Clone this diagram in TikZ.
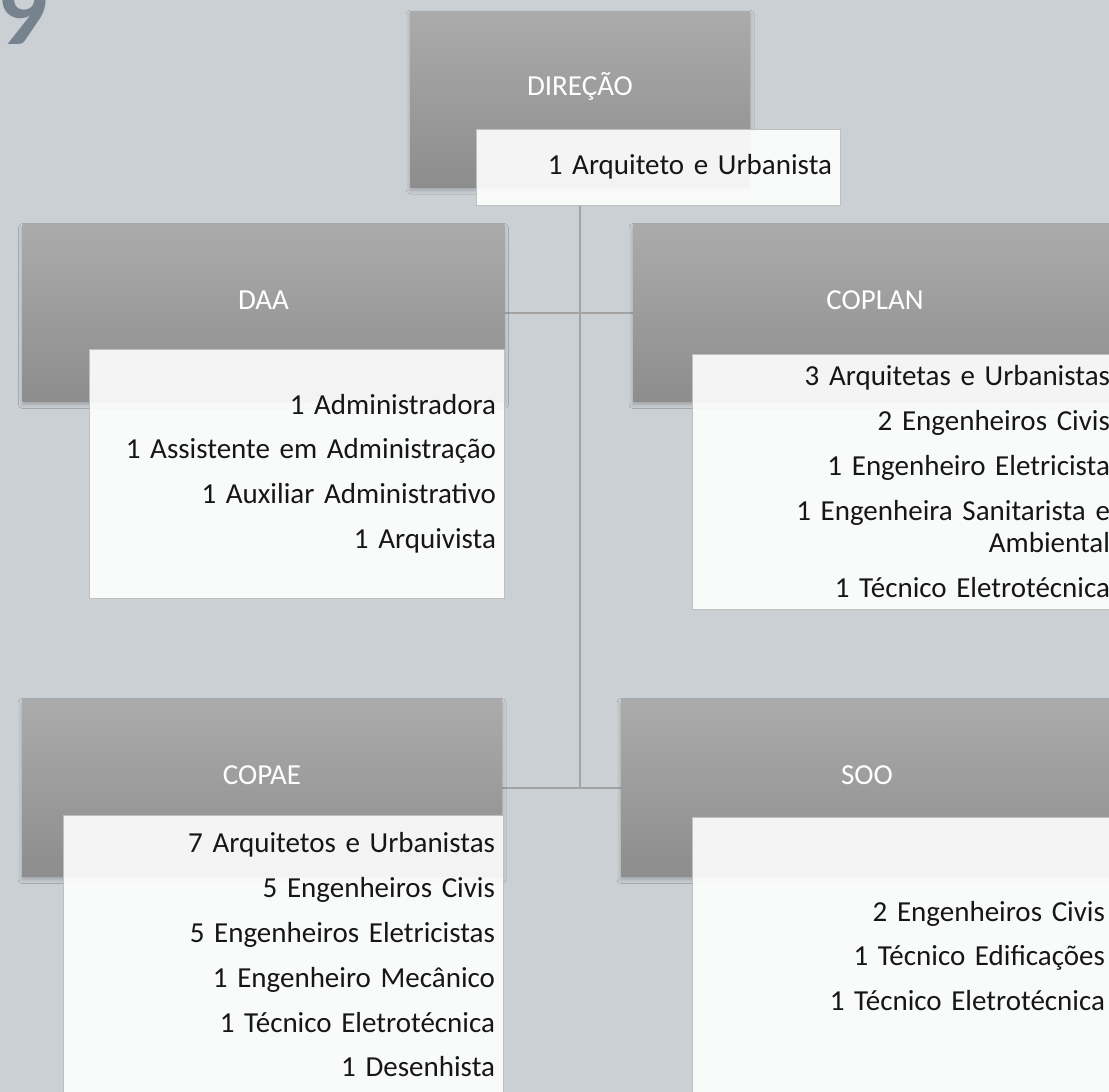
\documentclass[tikz,border=0pt]{standalone}
\usepackage{fontspec}
\setmainfont{Carlito}
\usetikzlibrary{backgrounds,shadows.blur}

\definecolor{paper}{RGB}{203,208,213}
\definecolor{unittop}{RGB}{171,171,171}
\definecolor{unitbot}{RGB}{141,141,141}
\definecolor{linkgray}{RGB}{163,163,163}
\definecolor{ninegray}{RGB}{118,130,142}
\definecolor{inkblack}{RGB}{22,22,22}

\pgfdeclarelayer{links}
\pgfsetlayers{background,links,main}

\tikzset{
   unit/.style={rectangle, top color=unittop, bottom color=unitbot, draw=none,
      text=white, minimum width=241pt, minimum height=88.5pt, inner sep=0pt,
      text height=9.5pt, text depth=13pt, font=\fontsize{14.5}{16}\selectfont,
      blur shadow={shadow xshift=0pt, shadow yshift=-1.5pt, shadow blur radius=2pt, shadow opacity=22}},
   staff/.style={rectangle, fill=white, fill opacity=0.9, text opacity=1,
      draw=black!25, line width=0.5pt, align=right, inner xsep=4pt, inner ysep=0pt,
      text=inkblack, font=\fontsize{14.5}{16}\selectfont},
   link/.style={draw=linkgray, line width=1.2pt}
}

\begin{document}
\begin{tikzpicture}[x=0.5pt, y=-0.5pt, inner frame sep=0pt,
   background rectangle/.style={fill=paper}, show background rectangle]
   \useasboundingbox (0,0) rectangle (1109,1092);
   \clip (0,0) rectangle (1109,1092);
   \node[anchor=base west, inner sep=0pt, text=ninegray,
      font=\fontsize{50}{50}\selectfont\bfseries] (pagenum) at (-3,45) {9};
   % units, each with its staff list
   \node[unit, minimum width=170pt, minimum height=88pt] (dir) at (580,99) {DIREÇÃO};
   \node[staff, text width=174pt, minimum height=38pt] (dirstaff) at (658,167)
      {1 Arquiteto e Urbanista};
   \node[unit] (daa) at (263.5,313) {DAA};
   \node[staff, text width=199.5pt, minimum height=124.5pt] (daastaff) at (296.5,473.5)
      {1 Administradora\\[6.4pt]
       1 Assistente em Administração\\[6.4pt]
       1 Auxiliar Administrativo\\[6.4pt]
       1 Arquivista};
   \node[unit, minimum width=242pt] (coplan) at (875,313) {COPLAN};
   \node[staff, text width=205pt, minimum height=127.5pt] (coplanstaff) at (905,481.5)
      {3 Arquitetas e Urbanistas\\[6.4pt]
       2 Engenheiros Civis\\[6.4pt]
       1 Engenheiro Eletricista\\[6.4pt]
       1 Engenheira Sanitarista e\\
       Ambiental\\[6.4pt]
       1 Técnico Eletrotécnica};
   \node[unit, minimum width=240pt] (copae) at (262,788) {COPAE};
   \node[staff, text width=212pt, minimum height=140pt] (copaestaff) at (283,955)
      {7 Arquitetos e Urbanistas\\[6.4pt]
       5 Engenheiros Civis\\[6.4pt]
       5 Engenheiros Eletricistas\\[6.4pt]
       1 Engenheiro Mecânico\\[6.4pt]
       1 Técnico Eletrotécnica\\[6.4pt]
       1 Desenhista};
   \node[unit, minimum width=246pt] (soo) at (867,788) {SOO};
   \node[staff, text width=202.5pt, minimum height=139pt] (soostaff) at (902.5,956)
      {2 Engenheiros Civis\\[6.4pt]
       1 Técnico Edificações\\[6.4pt]
       1 Técnico Eletrotécnica};
   \begin{pgfonlayer}{links}
      \draw[link] (dir.south |- dirstaff.south) -- (dir.south |- copae.east);
      \draw[link] (daa.east) -- (coplan.west);
      \draw[link] (copae.east) -- (soo.west);
   \end{pgfonlayer}
\end{tikzpicture}
\end{document}
